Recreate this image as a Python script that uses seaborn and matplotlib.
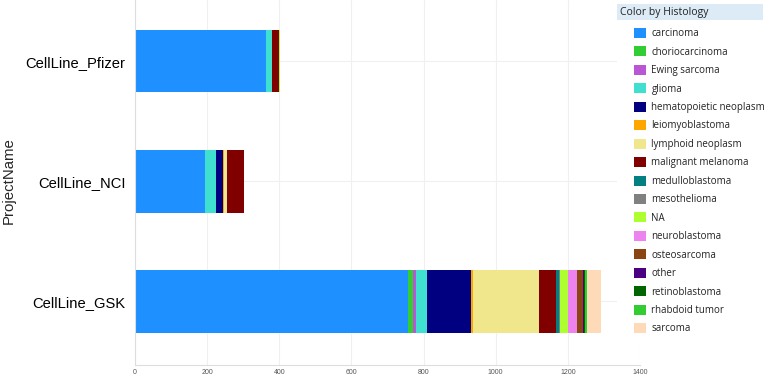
import numpy as np
import pandas as pd
import matplotlib
matplotlib.use('Agg')
import matplotlib.pyplot as plt
from matplotlib.patches import Patch, Rectangle
import seaborn as sns

# -----------------------------
# Data (counts per project / histology)
# -----------------------------
projects = ['CellLine_Pfizer', 'CellLine_NCI', 'CellLine_GSK']
histologies = ['carcinoma', 'choriocarcinoma', 'Ewing sarcoma', 'glioma',
               'hematopoietic neoplasm', 'leiomyoblastoma', 'lymphoid neoplasm',
               'malignant melanoma', 'medulloblastoma', 'mesothelioma', 'NA',
               'neuroblastoma', 'osteosarcoma', 'other', 'retinoblastoma',
               'rhabdoid tumor', 'sarcoma']
colors = ['#1E90FF', '#32CD32', '#BA55D3', '#40E0D0', '#000080', '#FFA500',
          '#F0E68C', '#800000', '#008080', '#808080', '#ADFF2F', '#EE82EE',
          '#8B4513', '#4B0082', '#006400', '#32CD32', '#FFDAB9']

# values in order [Pfizer, NCI, GSK]
carcinoma = [362, 194, 758]
choriocarcinoma = [0, 0, 12]
ewing_sarcoma = [0, 0, 10]
glioma = [17, 31, 30]
hematopoietic = [0, 20, 121]
leiomyoblastoma = [0, 2, 5]
lymphoid = [0, 8, 183]
melanoma = [19, 46, 48]
medulloblastoma = [0, 0, 8]
mesothelioma = [0, 0, 2]
na_values = [5, 0, 23]
neuroblastoma = [0, 0, 26]
osteosarcoma = [0, 0, 16]
other = [0, 0, 2]
retinoblastoma = [0, 0, 4]
rhabdoid = [0, 0, 4]
sarcoma = [0, 0, 40]

series = [carcinoma, choriocarcinoma, ewing_sarcoma, glioma, hematopoietic,
          leiomyoblastoma, lymphoid, melanoma, medulloblastoma, mesothelioma,
          na_values, neuroblastoma, osteosarcoma, other, retinoblastoma,
          rhabdoid, sarcoma]

df = pd.DataFrame(np.array(series).T, columns=histologies)
df.insert(0, 'ProjectName', projects)
cum = df[histologies].cumsum(axis=1)
cum['ProjectName'] = projects

# -----------------------------
# Plot
# -----------------------------
sns.set_style('white')
plt.rcParams['font.family'] = ['Liberation Sans', 'DejaVu Sans']

fig = plt.figure(figsize=(7.68, 3.76), dpi=100)
ax = fig.add_axes([135 / 768, 1 - 365 / 376, (640 - 135) / 768, 365 / 376])

# stacked bars: draw cumulative totals from the last category backwards
for h, c in reversed(list(zip(histologies, colors))):
    sns.barplot(data=cum, x=h, y='ProjectName', order=projects, color=c,
                width=0.52, linewidth=0, saturation=1, orient='h', ax=ax)

ax.set_xlim(0, 1400)
ax.set_ylim(2.53, -0.51)
ax.set_xticks(range(0, 1401, 200))
ax.grid(True, color='#f0f0f0', linewidth=0.8)
ax.set_axisbelow(True)
ax.tick_params(axis='x', labelsize=5, colors='#555555', length=0, pad=3)
ax.tick_params(axis='y', labelsize=10.6, colors='black', length=0, pad=7)
ax.set_xlabel('')
ax.set_ylabel('ProjectName', fontsize=10.8)
ax.yaxis.set_label_coords(-0.236, 0.504)
for s in ['top', 'right']:
    ax.spines[s].set_visible(False)
for s in ['left', 'bottom']:
    ax.spines[s].set_color('#dddddd')
    ax.spines[s].set_linewidth(0.8)

# legend panel
fig.patches.append(Rectangle((617 / 768, 36 / 376), 151 / 768, 340 / 376,
                             transform=fig.transFigure, facecolor='white',
                             edgecolor='none', zorder=5))
fig.patches.append(Rectangle((617 / 768, 1 - 20 / 376), 146 / 768, 16 / 376,
                             transform=fig.transFigure, facecolor='#dcebf6',
                             edgecolor='none', zorder=6))
fig.text(620 / 768, 1 - 12 / 376, 'Color by Histology', fontsize=7.5,
         va='center', ha='left', color='#222222', family=['Open Sans', 'DejaVu Sans'],
         zorder=7)
handles = [Patch(facecolor=c, edgecolor='none') for c in colors]
leg = fig.legend(handles, histologies, loc='upper left',
                 bbox_to_anchor=(630 / 768, 1 - 24 / 376), frameon=False,
                 prop={'family': ['Open Sans', 'DejaVu Sans'], 'size': 7},
                 handlelength=1.2, handleheight=1.2, handletextpad=0.6,
                 labelspacing=0.74, borderaxespad=0)
leg.set_zorder(7)
for t in leg.get_texts():
    t.set_color('#222222')

fig.savefig('out.png', dpi=100)
